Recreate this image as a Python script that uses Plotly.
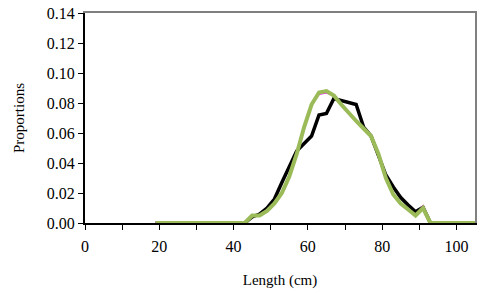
import plotly.graph_objects as go

lengths = list(range(19, 107, 2))

observed = [0]*13 + [0.004, 0.006, 0.010, 0.016, 0.027, 0.038, 0.048, 0.053, 0.058,
                     0.072, 0.073, 0.083, 0.0815, 0.0805, 0.079, 0.064, 0.058, 0.045,
                     0.032, 0.024, 0.017, 0.012, 0.0075, 0.0105] + [0]*7

model_a = [0]*13 + [0.005, 0.005, 0.008, 0.013, 0.020, 0.031, 0.046, 0.064, 0.079,
                    0.086, 0.087, 0.085, 0.079, 0.073, 0.068, 0.063, 0.058, 0.046,
                    0.030, 0.019, 0.013, 0.009, 0.005, 0.011] + [0]*7

model_b = [0]*13 + [0.005, 0.005, 0.008, 0.013, 0.020, 0.031, 0.046, 0.064, 0.079,
                    0.087, 0.088, 0.085, 0.079, 0.073, 0.068, 0.063, 0.058, 0.046,
                    0.030, 0.019, 0.013, 0.009, 0.005, 0.010] + [0]*7

x_ticks = [0, 20, 40, 60, 80, 100]
y_ticks = [0, 0.02, 0.04, 0.06, 0.08, 0.10, 0.12, 0.14]

FONT = "Liberation Serif"

fig = go.Figure()
fig.add_trace(go.Scatter(x=lengths, y=observed, mode="lines",
                         line=dict(color="#000000", width=3.5), name="Observed"))
fig.add_trace(go.Scatter(x=lengths, y=model_a, mode="lines",
                         line=dict(color="#FF00FF", width=2), name="Model A"))
fig.add_trace(go.Scatter(x=lengths, y=model_b, mode="lines",
                         line=dict(color="#9BBB59", width=4), name="Model B"))

fig.update_layout(
    width=481, height=292,
    margin=dict(l=85, r=6, t=13, b=69),
    paper_bgcolor="white", plot_bgcolor="white",
    showlegend=False,
    font=dict(family=FONT, color="#000000"),
    # gray plot-area border on top and right
    xaxis2=dict(overlaying="x", side="top", range=[0, 105], showline=True,
                linecolor="#808080", linewidth=2, showticklabels=False, ticks="",
                showgrid=False, zeroline=False),
    yaxis2=dict(overlaying="y", side="right", range=[0, 0.14], showline=True,
                linecolor="#808080", linewidth=2, showticklabels=False, ticks="",
                showgrid=False, zeroline=False),
)
fig.update_xaxes(
    selector=dict(anchor="y"),
    range=[0, 105], tickvals=x_ticks, ticktext=[str(v) for v in x_ticks],
    ticks="outside", ticklen=5, tickcolor="#000000", tickwidth=1,
    minor=dict(dtick=10, tick0=0, ticks="outside", ticklen=5, tickcolor="#000000", showgrid=False),
    showline=True, linecolor="#000000", linewidth=2,
    showgrid=False, zeroline=False, automargin=False,
    tickfont=dict(size=16, family=FONT), ticklabelstandoff=3,
    title=dict(text="Length (cm)", font=dict(size=15, family=FONT), standoff=20),
)
fig.layout.xaxis.update(
    range=[0, 105], tickvals=x_ticks, ticktext=[str(v) for v in x_ticks],
    ticks="outside", ticklen=5, tickcolor="#000000", tickwidth=1,
    minor=dict(dtick=10, tick0=0, ticks="outside", ticklen=5, tickcolor="#000000", showgrid=False),
    showline=True, linecolor="#000000", linewidth=2,
    showgrid=False, zeroline=False, automargin=False,
    tickfont=dict(size=16, family=FONT), ticklabelstandoff=3,
    title=dict(text="Length (cm)", font=dict(size=15, family=FONT), standoff=20),
)
fig.layout.yaxis.update(
    range=[0, 0.14], tickvals=y_ticks, ticktext=[f"{v:.2f}" for v in y_ticks],
    ticks="outside", ticklen=5, tickcolor="#000000", tickwidth=1,
    showline=True, linecolor="#000000", linewidth=2,
    showgrid=False, zeroline=False, automargin=False,
    tickfont=dict(size=16, family=FONT),
    title=dict(text="Proportions", font=dict(size=15, family=FONT), standoff=19),
)

# invisible helper trace so the border axes are drawn
fig.add_trace(go.Scatter(x=[0], y=[0], xaxis="x2", yaxis="y2", mode="markers",
                         marker=dict(opacity=0), hoverinfo="skip", showlegend=False))

fig.write_html("out.html",
               config={"displayModeBar": False},
               post_script="document.body.style.margin='0';document.body.style.padding='0';")
